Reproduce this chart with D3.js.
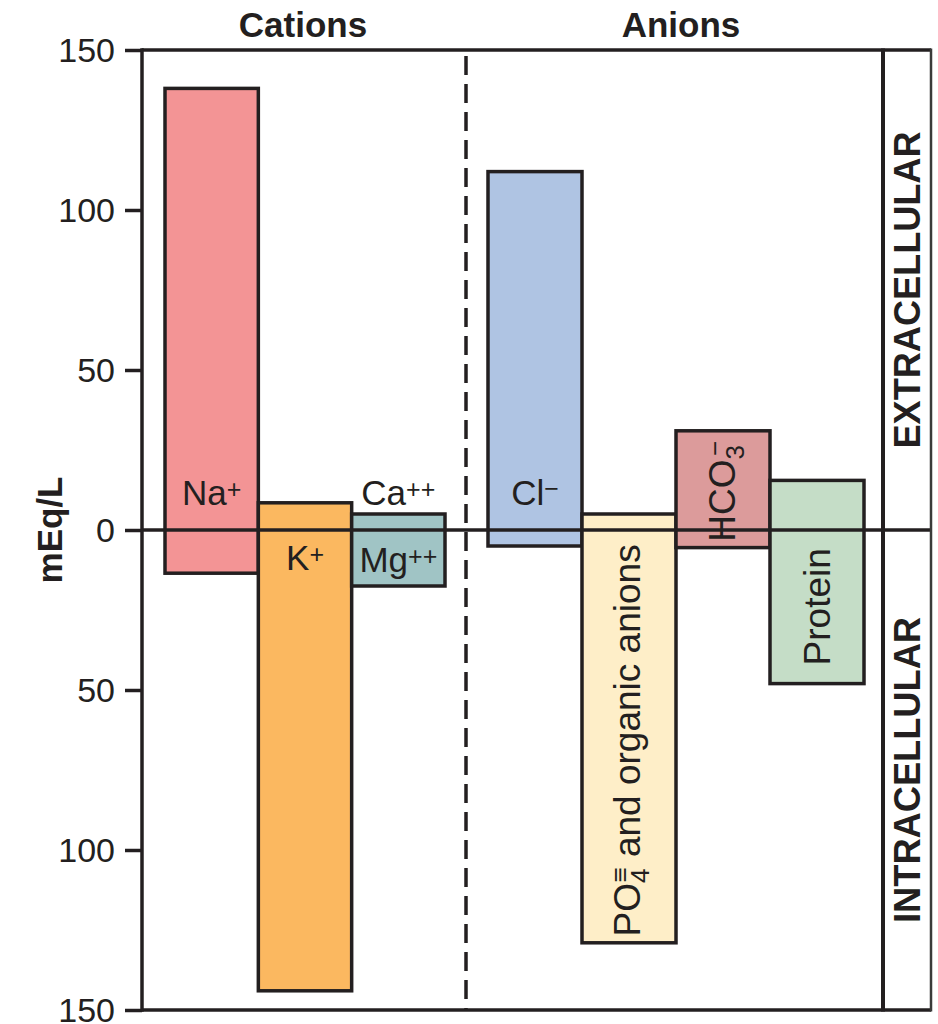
<!DOCTYPE html>
<html><head><meta charset="utf-8">
<script src="https://cdn.jsdelivr.net/npm/d3@7"></script>
<style>
body{margin:0;background:#fff;}
text{font-family:"Liberation Sans",Arial,Helvetica,sans-serif;fill:#231f20;}
</style>
</head><body>
<svg id="chart" width="938" height="1024"></svg>
<script>
// ---- data ----
const cations = ["Na", "K", "CaMg"];
const anions = ["Cl", "PO4", "HCO3", "Protein"];
const cationExtra = [138, 8.5, 5];
const cationIntra = [13.5, 144, 17.5];
const anionExtra = [112, 5, 31, 15.5];
const anionIntra = [5, 129, 5.5, 48];
const cationColors = ["#f39495", "#fbb860", "#a0c4c5"];
const anionColors = ["#afc4e3", "#feeec8", "#dc9b9b", "#c5ddc7"];
const yTicks = [150, 100, 50, 0, -50, -100, -150];
const groupTitles = ["Cations", "Anions"];
const compartmentLabels = ["EXTRACELLULAR", "INTRACELLULAR"];
const yLabel = "mEq/L";

// ---- layout ----
const svg = d3.select("#chart");
const ink = "#231f20";
const left = 142, right = 883, boxRight = 931, divider = 466;
const y = d3.scaleLinear().domain([-150, 150]).range([1010, 50]);
const xC = d3.scaleBand().domain(cations).range([165, 445]);
const xA = d3.scaleBand().domain(anions).range([488, 864]);

// frame top/bottom
[150, -150].forEach(v => {
  svg.append("line").attr("x1", left).attr("x2", boxRight)
    .attr("y1", y(v)).attr("y2", y(v)).attr("stroke", ink).attr("stroke-width", 3.5);
});

// bars
function drawBars(cats, ext, intr, cols, xs) {
  svg.append("g").selectAll("rect").data(cats).join("rect")
    .attr("x", d => xs(d))
    .attr("width", xs.bandwidth())
    .attr("y", (d, i) => y(ext[i]))
    .attr("height", (d, i) => y(-intr[i]) - y(ext[i]))
    .attr("fill", (d, i) => cols[i])
    .attr("stroke", ink).attr("stroke-width", 3.5);
}
drawBars(cations, cationExtra, cationIntra, cationColors, xC);
drawBars(anions, anionExtra, anionIntra, anionColors, xA);

// zero line
svg.append("line").attr("x1", left).attr("x2", boxRight)
  .attr("y1", y(0)).attr("y2", y(0)).attr("stroke", ink).attr("stroke-width", 3.5);

// dashed divider
svg.append("line").attr("x1", divider).attr("x2", divider)
  .attr("y1", y(150)).attr("y2", y(-150))
  .attr("stroke", ink).attr("stroke-width", 3.5).attr("stroke-dasharray", "19,9").attr("stroke-dashoffset", -6);

// right box lines
svg.append("line").attr("x1", right).attr("x2", right).attr("y1", y(150) - 1.5).attr("y2", y(-150) + 1.5)
  .attr("stroke", ink).attr("stroke-width", 4);
svg.append("line").attr("x1", boxRight).attr("x2", boxRight).attr("y1", y(150) - 1.5).attr("y2", y(-150) + 1.5)
  .attr("stroke", "#3a3a3a").attr("stroke-width", 2.5);

// y axis
const axis = d3.axisLeft(y).tickValues(yTicks).tickFormat(d => Math.abs(d)).tickSize(17).tickPadding(10);
const ag = svg.append("g").attr("transform", `translate(${left},0)`).call(axis);
ag.select(".domain").remove();
ag.selectAll(".tick line").attr("stroke", ink).attr("stroke-width", 3.5);
ag.selectAll(".tick text").attr("font-size", 34).attr("fill", ink)
  .attr("font-family", "Liberation Sans, Arial, sans-serif").attr("dy", "0.35em");
svg.append("line").attr("x1", left).attr("x2", left).attr("y1", y(150) - 1.75).attr("y2", y(-150) + 1.75)
  .attr("stroke", ink).attr("stroke-width", 3.5);

// y label
svg.append("text").attr("transform", `translate(62,${y(0)}) rotate(-90)`)
  .attr("text-anchor", "middle").attr("font-size", 35).attr("font-weight", "bold").text(yLabel);

// group titles
svg.selectAll("text.title").data(groupTitles).join("text").attr("class", "title")
  .attr("x", (d, i) => [303, 681][i]).attr("y", 37)
  .attr("text-anchor", "middle").attr("font-size", 35).attr("font-weight", "bold").text(d => d);

// compartment labels
const compY = [y(75), y(-75)];
const compLen = [317, 306];
compartmentLabels.forEach((t, i) => {
  svg.append("text").attr("transform", `translate(920,${compY[i]}) rotate(-90)`)
    .attr("text-anchor", "middle").attr("font-size", 37).attr("font-weight", "bold")
    .attr("font-family", "Liberation Sans Narrow, DejaVu Sans Condensed, sans-serif")
    .attr("textLength", compLen[i]).attr("lengthAdjust", "spacingAndGlyphs").text(t);
});

// rich label helper
function rich(x, yy, parts, rotate, size) {
  const t = svg.append("text").attr("text-anchor", "middle").attr("font-size", size);
  if (rotate) t.attr("transform", `translate(${x},${yy}) rotate(-90)`);
  else t.attr("x", x).attr("y", yy);
  parts.forEach(p => {
    const ts = t.append("tspan").text(p[0]);
    if (p[1]) ts.attr("font-size", p[1]);
    if (p[2]) ts.attr("dy", p[2]);
    if (p[3]) ts.attr("dx", p[3]);
  });
  return t;
}
const cx = (xs, c) => xs(c) + xs.bandwidth() / 2;
const z = y(0);
rich(cx(xC, "Na"), z - 25, [["Na"], ["+", 25, -7]], false, 35);
rich(cx(xC, "K"), z + 40, [["K"], ["+", 25, -7]], false, 35);
rich(cx(xC, "CaMg"), z - 25, [["Ca"], ["++", 25, -7]], false, 35);
rich(cx(xC, "CaMg"), z + 42, [["Mg"], ["++", 25, -7]], false, 35);
rich(cx(xA, "Cl"), z - 25, [["Cl"], ["\u2212", 25, -8]], false, 35);
// rotated labels
const iPO = anions.indexOf("PO4"), iH = anions.indexOf("HCO3"), iP = anions.indexOf("Protein");
rich(cx(xA, "PO4") + 11, (y(0) + y(-anionIntra[iPO])) / 2 + 4,
  [["PO"], ["4", 26, 9], ["\u2261", 26, -20, -14], [" and organic anions", 37, 11]], true, 37);
rich(cx(xA, "HCO3") + 12, (y(anionExtra[iH]) + y(-anionIntra[iH])) / 2 + 2,
  [["HCO"], ["3", 26, 9], ["\u2212", 26, -20, -11]], true, 37);
rich(cx(xA, "Protein") + 13, (y(0) + y(-anionIntra[iP])) / 2,
  [["Protein"]], true, 37);
</script>
</body></html>
